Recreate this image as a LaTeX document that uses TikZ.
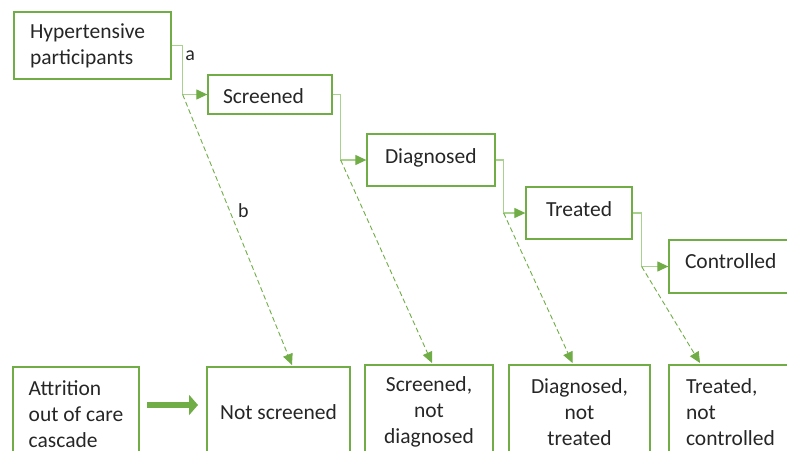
\documentclass[tikz,border=0pt]{standalone}
\usepackage{fontspec}
\setmainfont{Carlito}
\usetikzlibrary{arrows.meta,calc}
\definecolor{cascgreen}{HTML}{70AD47}
\definecolor{cascpale}{HTML}{A9D18E}

\begin{document}
\begin{tikzpicture}[x=1pt,y=-1pt]
\tikzset{
  box/.style={draw=cascgreen, line width=1.3pt, inner xsep=16pt, inner ysep=0pt,
    font=\fontsize{21.5}{26}\selectfont, text=black!85},
  stage/.style={box, align=left, text height=29pt, text depth=23pt},
  loss/.style={box, line width=2pt, anchor=north, minimum height=94pt},
  link/.style={draw=cascpale, line width=1.2pt, -{Triangle[length=11pt,width=10pt,color=cascgreen]}},
  drop/.style={draw=cascgreen, line width=0.9pt, dash pattern=on 5pt off 3pt,
    -{Triangle[length=11pt,width=10pt]}},
  lbl/.style={font=\fontsize{20}{24}\selectfont, text=black!85, inner sep=2pt},
}
\useasboundingbox (0,0) rectangle (787,450);
\clip (0,0) rectangle (787,450);

%% Care cascade stages
\node[box, align=left, text width=125pt, minimum height=67pt] (hyp) at (92.5,45.5) {Hypertensive\\participants};
\node[stage, text width=94pt, inner xsep=15pt, text height=28pt, text depth=11pt] (scr) at (270,94.5) {Screened};
\node[stage, text width=92pt, inner xsep=18pt] (dia) at (431,160) {Diagnosed};
\node[stage, text width=66pt, inner xsep=20pt] (tre) at (579,213) {Treated};
\node[stage, text width=99pt, text height=28pt, text depth=25pt] (con) at (734.5,266.5) {Controlled};

%% Attrition boxes
\node[loss, align=left, minimum width=124pt] (att) at (76,366) {Attrition\\out of care\\cascade};
\node[loss, inner xsep=8pt, minimum width=143pt, minimum height=90pt] (nots) at (278.5,366) {Not screened};
\node[loss, align=center, minimum width=128pt] (snd) at (429,364) {Screened,\\not\\diagnosed};
\node[loss, align=center, minimum width=141pt] (dnt) at (579.5,364) {Diagnosed,\\not\\treated};
\node[loss, align=left, text width=100pt, inner xsep=17pt] (tnc) at (736,364) {Treated,\\not\\controlled};

%% Elbow connectors
\draw[link] (hyp.east) -- ++(11,0) coordinate (ka) |- node[lbl, pos=0.1, right] (la) {a} (scr.west);
\draw[link] (scr.east) -- ++(8,0) coordinate (kb) |- (dia.west);
\draw[link] (dia.east) -- ++(8,0) coordinate (kc) |- (tre.west);
\draw[link] (tre.east) -- ++(9,0) coordinate (kd) |- (con.west);

%% Dropping out
\draw[drop] (ka |- scr.west) -- node[lbl, pos=0.43, right=6pt] (lb) {b} ($(nots.north)+(13.5,-1)$);
\draw[drop] (kb |- dia.west) -- ($(snd.north)+(3,-1)$);
\draw[drop] (kc |- tre.west) -- ($(dnt.north)+(-7,-1)$);
\draw[drop] (kd |- con.west) -- ($(tnc.north)+(-36,-1)$);

\draw[cascgreen, line width=6.5pt, -{Triangle[length=9pt,width=20pt]}]
  ($(att.east)+(7,-9)$) -- ($(att.east -| nots.west)+(-8,-9)$);
\end{tikzpicture}
\end{document}
